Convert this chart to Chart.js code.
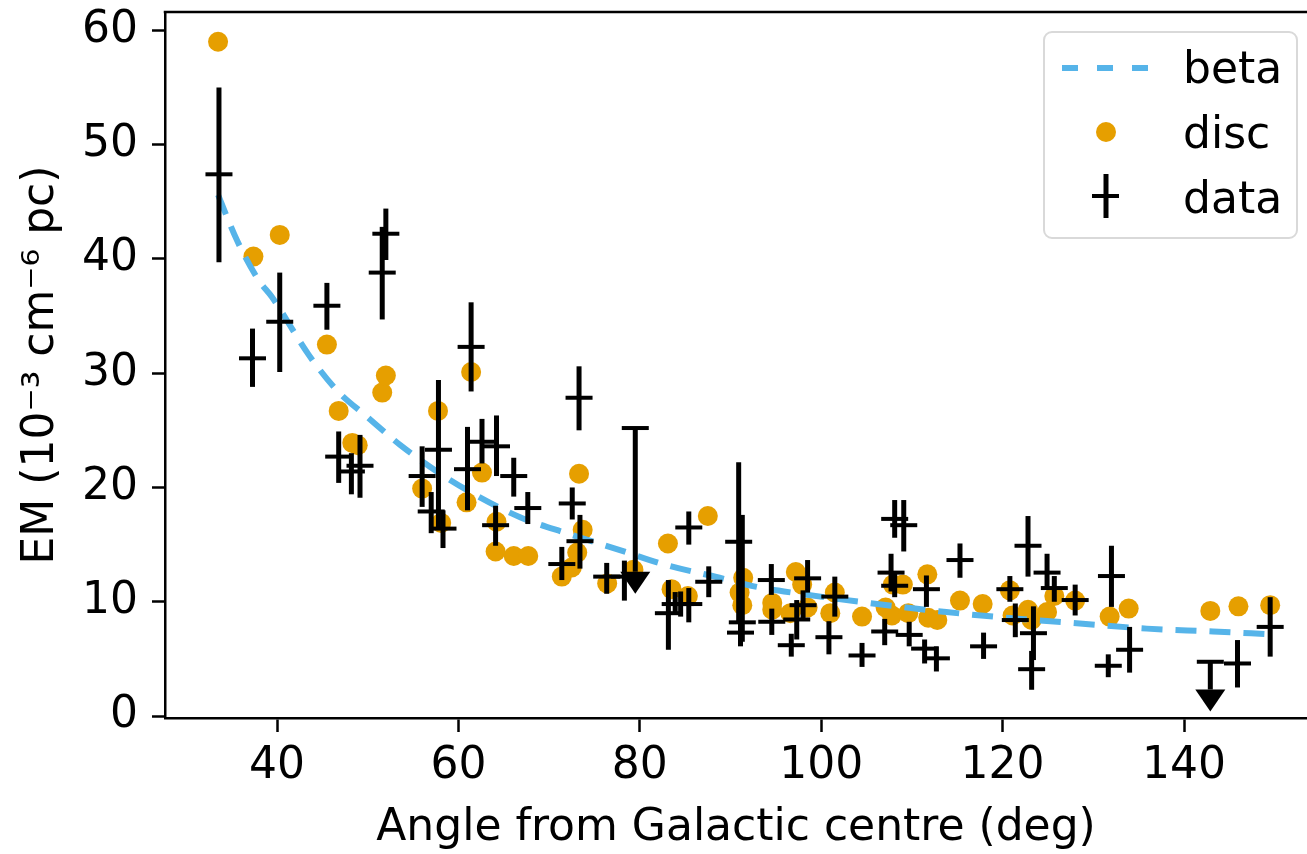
<!DOCTYPE html>
<html lang="en">
<head>
<meta charset="UTF-8">
<title>EM vs angle from Galactic centre</title>
<script src="https://cdn.jsdelivr.net/npm/chart.js"></script>
<style>
  body { margin: 0; background: #fff; font-family: "DejaVu Sans", sans-serif; }
  .wrap { position: relative; width: 1307px; height: 854px; }
  #legend {
    position: absolute; left: 1043px; top: 31px; width: 251px; height: 204px;
    border: 2px solid #d9d9d9; border-radius: 9px; background: rgba(255,255,255,0.8);
  }
  .lbl { position: absolute; left: 1183px; font-size: 44px; line-height: 52px; color: #000; white-space: nowrap; }
  #legendMarks { position: absolute; left: 0; top: 0; }
</style>
</head>
<body>
<div class="wrap">
  <canvas id="emChart" width="1307" height="854"></canvas>
  <div id="legend"></div>
  <svg id="legendMarks" width="1307" height="260">
    <line x1="1062" y1="68" x2="1149" y2="68" stroke="#56B4E9" stroke-width="6" stroke-dasharray="16 19"/>
    <circle cx="1106" cy="132" r="10" fill="#E69F00"/>
    <line x1="1106" y1="174" x2="1106" y2="218" stroke="#000" stroke-width="5"/>
    <line x1="1092" y1="196" x2="1119" y2="196" stroke="#000" stroke-width="4"/>
  </svg>
  <div class="lbl" style="top:42px">beta</div>
  <div class="lbl" style="top:107px">disc</div>
  <div class="lbl" style="top:172px">data</div>
</div>

<script>
// model curve (beta)
const betaX = [33.5, 35.6, 38.0, 39.4, 43.5, 46.6, 49.9, 53.6, 58.2, 62.0, 66.8, 71.9, 77.1, 83.0, 88.8, 92.9, 97.7, 105.7, 113.8, 121.1, 128.5, 135.9, 143.2, 149.5];
const betaY = [45.6, 41.6, 38.1, 36.7, 31.6, 28.5, 26.2, 23.7, 21.1, 19.3, 17.4, 16.0, 14.7, 13.2, 12.1, 11.3, 10.7, 9.85, 9.1, 8.55, 8.1, 7.65, 7.4, 7.15];

// disc model points
const discX = [33.5, 37.4, 40.3, 45.5, 46.8, 48.3, 48.9, 51.6, 52.0, 56.0, 57.75, 58.1, 60.9, 61.4, 62.6, 64.2, 64.1, 66.1, 67.7, 71.4, 72.5, 73.1, 73.3, 73.7, 76.4, 79.3, 83.1, 83.5, 85.3, 87.5, 91.0, 91.3, 91.4, 94.6, 94.6, 96.6, 97.2, 97.9, 98.5, 101.0, 101.5, 104.5, 107.1, 107.8, 107.9, 109.0, 109.6, 111.7, 111.8, 112.8, 115.3, 117.8, 120.8, 121.1, 122.8, 123.2, 124.9, 125.7, 128.0, 131.8, 133.9, 142.9, 146.0, 149.5];
const discY = [59.0, 40.2, 42.1, 32.5, 26.7, 23.9, 23.7, 28.3, 29.8, 19.9, 26.7, 16.9, 18.7, 30.1, 21.3, 17.0, 14.4, 14.0, 14.0, 12.2, 13.0, 14.3, 21.2, 16.3, 11.6, 12.8, 15.1, 11.1, 10.5, 17.5, 10.8, 9.7, 12.1, 9.9, 9.3, 9.0, 12.6, 11.5, 9.5, 9.0, 10.8, 8.7, 9.5, 8.8, 11.5, 11.5, 9.0, 12.4, 8.6, 8.4, 10.1, 9.8, 11.0, 8.8, 9.3, 8.4, 9.1, 10.5, 10.1, 8.7, 9.4, 9.2, 9.6, 9.7];

// measured EM with error range
const dataX  = [33.6, 37.3, 40.3, 45.5, 46.8, 48.2, 49.15, 51.6, 52.0, 56.0, 57.0, 57.8, 58.3, 61.0, 61.4, 62.6, 64.2, 64.1, 66.1, 67.65, 71.4, 72.55, 73.3, 73.4, 76.35, 78.3, 83.15, 83.9, 84.5, 85.4, 85.4, 87.6, 90.9, 91.3, 91.1, 94.5, 94.55, 96.7, 97.3, 98.0, 98.5, 100.85, 101.5, 104.5, 107.0, 107.7, 108.1, 108.1, 109.1, 109.7, 111.4, 111.6, 112.7, 115.3, 117.9, 120.8, 121.4, 122.8, 123.2, 123.4, 124.9, 125.7, 128.0, 131.65, 132.0, 134.0, 145.9, 149.5];
const dataY  = [47.4, 31.3, 34.5, 35.9, 22.7, 21.4, 21.9, 38.8, 42.2, 21.0, 17.9, 23.3, 16.4, 21.6, 32.3, 24.0, 23.6, 16.7, 21.0, 18.2, 13.3, 18.6, 27.85, 15.3, 12.2, 12.2, 9.0, 9.8, 9.8, 9.8, 16.5, 11.75, 15.25, 8.2, 7.3, 11.9, 8.25, 6.2, 8.45, 9.7, 12.05, 6.9, 10.45, 5.3, 7.4, 12.55, 17.25, 11.4, 16.7, 7.1, 5.9, 11.1, 5.05, 13.65, 6.1, 11.1, 8.4, 14.9, 4.1, 7.25, 12.55, 11.2, 10.15, 4.4, 12.25, 5.8, 4.6, 7.8];
const dataLo = [39.7, 28.8, 30.1, 33.8, 20.4, 19.4, 19.1, 34.7, 39.9, 18.3, 16.0, 16.3, 14.7, 18.0, 28.4, 22.1, 21.0, 14.9, 19.2, 16.8, 11.9, 17.2, 25.0, 12.9, 10.7, 10.1, 5.8, 8.9, 8.7, 8.2, 15.0, 10.4, 8.3, 6.5, 6.1, 10.6, 7.1, 5.2, 6.7, 8.5, 10.8, 5.4, 8.7, 4.3, 6.2, 10.9, 15.6, 10.4, 14.4, 6.1, 4.6, 9.55, 3.9, 12.1, 5.0, 10.0, 6.9, 12.2, 2.3, 4.9, 11.2, 10.0, 8.8, 3.4, 9.55, 3.8, 2.5, 5.2];
const dataHi = [55.0, 33.9, 38.8, 37.9, 24.9, 23.0, 24.6, 42.8, 44.4, 23.6, 19.6, 29.4, 18.0, 25.3, 36.2, 26.0, 26.3, 18.4, 22.6, 19.6, 14.8, 20.0, 30.6, 17.6, 13.4, 13.6, 11.9, 10.85, 10.9, 11.2, 17.9, 13.1, 22.2, 17.6, 8.5, 13.3, 9.4, 7.2, 10.15, 11.0, 13.65, 8.3, 12.2, 6.4, 8.5, 14.2, 18.9, 12.5, 18.9, 8.25, 6.7, 12.3, 6.1, 15.1, 7.3, 12.25, 9.85, 17.5, 5.7, 9.6, 14.2, 12.25, 11.5, 5.4, 14.9, 7.8, 6.65, 10.4];

// upper limits: cap value and arrow tip
const limX   = [79.5, 142.9];
const limTop = [25.2, 4.75];
const limTip = [10.7, 0.4];

const xTicks = [40, 60, 80, 100, 120, 140];
const yTicks = [0, 10, 20, 30, 40, 50, 60];

const FONT = "'DejaVu Sans', sans-serif";

const toPts = (xs, ys) => xs.map((x, i) => ({ x: x, y: ys[i] }));

// vertical error bars + upper limit arrows
const errorBars = {
  id: 'errorBars',
  afterDatasetsDraw(chart) {
    const { ctx, scales: { x, y } } = chart;
    ctx.save();
    ctx.strokeStyle = '#000';
    ctx.fillStyle = '#000';
    ctx.lineWidth = 5;
    ctx.lineCap = 'butt';
    dataX.forEach((v, i) => {
      const px = x.getPixelForValue(v);
      ctx.beginPath();
      ctx.moveTo(px, y.getPixelForValue(dataLo[i]));
      ctx.lineTo(px, y.getPixelForValue(dataHi[i]));
      ctx.stroke();
    });
    limX.forEach((v, i) => {
      const px = x.getPixelForValue(v);
      const top = y.getPixelForValue(limTop[i]);
      const tip = y.getPixelForValue(limTip[i]);
      const base = tip - 22;
      ctx.lineWidth = 5;
      ctx.beginPath();
      ctx.moveTo(px, top);
      ctx.lineTo(px, base);
      ctx.stroke();
      ctx.lineWidth = 4;
      ctx.beginPath();
      ctx.moveTo(px - 13.5, top);
      ctx.lineTo(px + 13.5, top);
      ctx.stroke();
      ctx.beginPath();
      ctx.moveTo(px - 15, base);
      ctx.lineTo(px + 15, base);
      ctx.lineTo(px, tip);
      ctx.closePath();
      ctx.fill();
    });
    ctx.restore();
  }
};

// top spine
const topSpine = {
  id: 'topSpine',
  afterDraw(chart) {
    const { ctx, chartArea } = chart;
    ctx.save();
    ctx.strokeStyle = '#000';
    ctx.lineWidth = 2.5;
    ctx.beginPath();
    ctx.moveTo(chartArea.left - 1.25, chartArea.top);
    ctx.lineTo(chartArea.right, chartArea.top);
    ctx.stroke();
    ctx.restore();
  }
};

new Chart(document.getElementById('emChart').getContext('2d'), {
  type: 'scatter',
  data: {
    datasets: [
      {
        label: 'data',
        data: toPts(dataX, dataY),
        pointStyle: 'line',
        pointRadius: 13.5,
        borderWidth: 4,
        borderColor: '#000',
        backgroundColor: '#000',
        order: 0
      },
      {
        label: 'beta',
        type: 'line',
        data: toPts(betaX, betaY),
        borderColor: '#56B4E9',
        borderWidth: 6,
        borderDash: [21, 13],
        pointRadius: 0,
        fill: false,
        cubicInterpolationMode: 'monotone',
        order: 1
      },
      {
        label: 'disc',
        data: toPts(discX, discY),
        pointStyle: 'circle',
        pointRadius: 10,
        borderWidth: 0,
        backgroundColor: '#E69F00',
        order: 2
      }
    ]
  },
  options: {
    responsive: false,
    animation: false,
    devicePixelRatio: 1,
    events: [],
    layout: { autoPadding: false, padding: { top: 12, left: 0, right: 0, bottom: 0 } },
    plugins: { legend: { display: false }, tooltip: { enabled: false } },
    scales: {
      x: {
        type: 'linear',
        min: 27.65,
        max: 153.56,
        afterBuildTicks: a => { a.ticks = xTicks.map(v => ({ value: v })); },
        afterFit: s => { s.height = 136; s.paddingLeft = 0; s.paddingRight = 0; },
        grid: { drawOnChartArea: false, drawTicks: true, tickLength: 14, tickWidth: 2.5, tickColor: '#000' },
        border: { display: true, color: '#000', width: 2.5 },
        ticks: { color: '#000', font: { family: FONT, size: 44 }, padding: 8, maxRotation: 0 },
        title: {
          display: true,
          text: 'Angle from Galactic centre (deg)',
          color: '#000',
          font: { family: FONT, size: 44, lineHeight: 1 },
          padding: { top: 0, bottom: 3 }
        }
      },
      y: {
        type: 'linear',
        min: -0.17,
        max: 61.6,
        afterBuildTicks: a => { a.ticks = yTicks.map(v => ({ value: v })); },
        afterFit: s => { s.width = 165; s.paddingTop = 0; s.paddingBottom = 0; },
        grid: { drawOnChartArea: false, drawTicks: true, tickLength: 13, tickWidth: 2.5, tickColor: '#000' },
        border: { display: true, color: '#000', width: 2.5 },
        ticks: { color: '#000', font: { family: FONT, size: 44 }, padding: 14 },
        title: {
          display: true,
          text: 'EM (10\u207B\u00B3 cm\u207B\u2076 pc)',
          color: '#000',
          font: { family: FONT, size: 44, lineHeight: 1 },
          padding: { top: 20, bottom: 0 }
        }
      }
    }
  },
  plugins: [errorBars, topSpine]
});
</script>
</body>
</html>
